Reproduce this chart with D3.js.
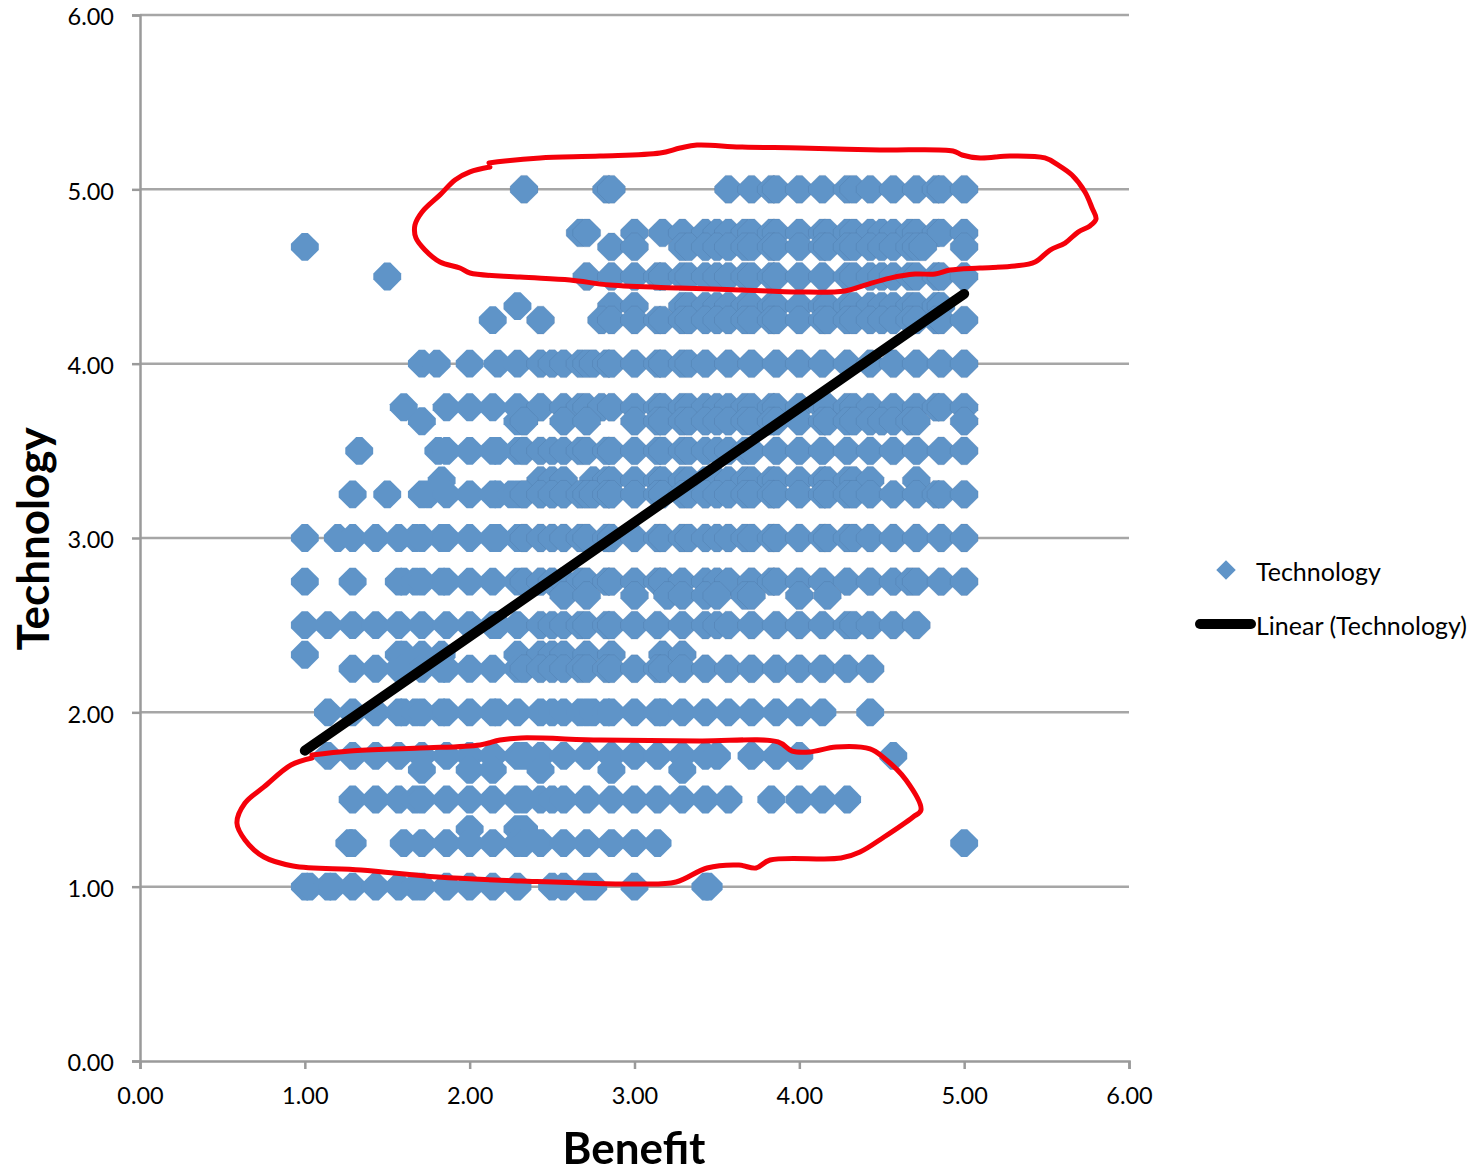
<!DOCTYPE html>
<html>
<head>
<meta charset="utf-8">
<script src="https://cdn.jsdelivr.net/npm/d3@7"></script>
<style>
html,body{margin:0;padding:0;background:#fff;}
svg{display:block;}
text{font-family:Lato,"Open Sans",sans-serif;fill:#000;}
</style>
</head>
<body>
<div id="chart"></div>
<script>
const xTicks = [0, 1, 2, 3, 4, 5, 6];
const yTicks = [0, 1, 2, 3, 4, 5, 6];
const xTitle = "Benefit";
const yTitle = "Technology";
const seriesName = "Technology";
const trendName = "Linear (Technology)";

const row500 = [2.33,2.83,2.86,3.57,3.71,3.83,3.86,4,4.14,4.29,4.33,4.43,4.57,4.71,4.83,4.86,5];
const row475 = [2.67,2.71,3,3.17,3.29,3.43,3.5,3.57,3.67,3.71,3.83,3.86,4,4.14,4.17,4.29,4.33,4.43,4.5,4.57,4.67,4.71,4.83,4.86,5];
const row467 = [1,2.86,3,3.29,3.33,3.43,3.5,3.57,3.67,3.71,3.83,3.86,4,4.14,4.17,4.29,4.33,4.43,4.5,4.57,4.67,4.71,4.75,5];
const row450 = [1.5,2.71,2.86,3,3.14,3.17,3.29,3.33,3.43,3.5,3.57,3.67,3.71,3.83,3.86,4,4.14,4.29,4.33,4.43,4.5,4.57,4.67,4.71,4.83,4.86,5];
const row433 = [2.29,2.86,3,3.29,3.33,3.43,3.5,3.57,3.67,3.71,3.83,3.86,4,4.14,4.17,4.29,4.33,4.43,4.5,4.57,4.67,4.71,4.83,4.86];
const row425 = [2.14,2.43,2.8,2.86,3,3.14,3.17,3.29,3.33,3.43,3.5,3.57,3.67,3.71,3.83,3.86,4,4.14,4.17,4.29,4.33,4.43,4.5,4.57,4.67,4.71,4.83,4.86,5];
const row400 = [1.71,1.8,2,2.17,2.29,2.43,2.5,2.57,2.67,2.71,2.75,2.83,2.86,3,3.14,3.17,3.29,3.33,3.43,3.57,3.71,3.86,4,4.14,4.29,4.43,4.57,4.71,4.86,5];
const row375 = [1.6,1.86,2,2.14,2.29,2.43,2.57,2.67,2.71,2.8,2.86,3,3.14,3.17,3.29,3.33,3.43,3.5,3.57,3.67,3.71,3.83,3.86,4,4.14,4.17,4.29,4.33,4.43,4.57,4.71,4.83,4.86,5];
const row367 = [1.71,2.29,2.33,2.57,2.71,3,3.14,3.17,3.29,3.33,3.43,3.5,3.57,3.67,3.71,3.83,3.86,4,4.14,4.17,4.29,4.33,4.43,4.5,4.57,4.67,4.71,5];
const row350 = [1.33,1.81,1.86,2,2.14,2.17,2.29,2.33,2.43,2.5,2.57,2.67,2.71,2.83,2.86,3,3.14,3.17,3.29,3.33,3.43,3.5,3.57,3.67,3.71,3.86,4,4.14,4.29,4.43,4.57,4.71,4.86,5];
const row333 = [1.83,2.43,2.5,2.57,2.75,2.83,2.86,3,3.14,3.17,3.29,3.33,3.43,3.5,3.57,3.67,3.71,3.83,3.86,4,4.14,4.17,4.29,4.33,4.43,4.71];
const row325 = [1.29,1.5,1.71,1.75,1.86,2,2.14,2.17,2.25,2.29,2.33,2.43,2.5,2.57,2.67,2.71,2.75,2.83,2.86,3,3.14,3.17,3.29,3.33,3.43,3.5,3.57,3.67,3.71,3.83,3.86,4,4.14,4.17,4.29,4.33,4.43,4.57,4.71,4.83,4.86,5];
const row300 = [1,1.2,1.29,1.43,1.57,1.67,1.71,1.83,1.86,2,2.14,2.17,2.29,2.33,2.43,2.5,2.57,2.67,2.71,2.83,2.86,3,3.14,3.17,3.29,3.33,3.43,3.5,3.57,3.67,3.71,3.83,3.86,4,4.14,4.17,4.29,4.33,4.43,4.57,4.71,4.86,5];
const row275 = [1,1.29,1.57,1.6,1.67,1.71,1.83,1.86,2,2.14,2.29,2.33,2.43,2.5,2.57,2.67,2.71,2.83,2.86,3,3.14,3.17,3.29,3.43,3.5,3.57,3.71,3.83,3.86,4,4.14,4.29,4.43,4.57,4.67,4.71,4.86,5];
const row267 = [2.57,2.71,3,3.2,3.29,3.43,3.5,3.67,3.71,4,4.17];
const row250 = [1,1.14,1.29,1.43,1.57,1.71,1.86,2,2.14,2.17,2.29,2.43,2.5,2.57,2.67,2.71,2.83,2.86,3,3.14,3.29,3.43,3.5,3.57,3.71,3.86,4,4.14,4.29,4.33,4.43,4.57,4.71];
const row233 = [1,1.57,1.6,1.71,1.83,2.29,2.43,2.5,2.57,2.71,2.86,3.17,3.29];
const row225 = [1.29,1.43,1.57,1.6,1.71,1.83,1.86,2,2.14,2.29,2.33,2.43,2.5,2.57,2.67,2.71,2.83,2.86,3,3.14,3.17,3.29,3.43,3.57,3.71,3.86,4,4.14,4.29,4.43];
const row200 = [1.14,1.29,1.43,1.57,1.6,1.67,1.71,1.83,1.86,2,2.14,2.17,2.29,2.43,2.5,2.57,2.67,2.71,2.75,2.83,2.86,3,3.14,3.17,3.29,3.43,3.57,3.71,3.86,4,4.14,4.43];
const row175 = [1.14,1.29,1.43,1.57,1.71,1.86,2,2.14,2.29,2.33,2.43,2.57,2.71,2.86,3,3.14,3.29,3.43,3.5,3.71,3.86,4,4.57];
const row167 = [1.71,2,2.14,2.43,2.86,3.29];
const row150 = [1.29,1.43,1.57,1.67,1.71,1.86,2,2.14,2.29,2.33,2.43,2.5,2.57,2.71,2.86,3,3.14,3.29,3.43,3.57,3.83,4,4.14,4.29];
const row133 = [2,2.29,2.33];
const row125 = [1.27,1.29,1.6,1.71,1.86,2,2.14,2.29,2.33,2.43,2.57,2.71,2.86,3,3.14,5];
const row100 = [1,1.03,1.14,1.17,1.29,1.43,1.57,1.67,1.71,1.86,2,2.14,2.29,2.5,2.57,2.71,2.75,3,3.43,3.45];

const rowLevels = [5,4.75,4.67,4.5,4.33,4.25,4,3.75,3.67,3.5,3.33,3.25,3,2.75,2.67,2.5,2.33,2.25,2,1.75,1.67,1.5,1.33,1.25,1];
const rowValues = [row500,row475,row467,row450,row433,row425,row400,row375,row367,row350,row333,row325,row300,row275,row267,row250,row233,row225,row200,row175,row167,row150,row133,row125,row100];

const trendX = [1, 5];
const trendY = [1.78, 4.40];

const upperLoopX = [2.117,2.214,2.427,2.791,3.155,3.276,3.379,3.640,4.004,4.489,4.932,4.987,5.096,5.278,5.490,5.569,5.654,5.733,5.776,5.800,5.763,5.691,5.612,5.521,5.430,5.308,5.096,4.914,4.823,4.702,4.550,4.398,4.277,4.004,3.640,3.276,2.851,2.609,2.305,2.002,1.941,1.820,1.729,1.674,1.668,1.711,1.820,1.911,2.002,2.123];
const upperLoopY = [5.151,5.163,5.180,5.191,5.208,5.237,5.254,5.243,5.237,5.226,5.220,5.197,5.180,5.191,5.180,5.140,5.082,4.985,4.893,4.830,4.790,4.755,4.692,4.652,4.583,4.560,4.549,4.537,4.514,4.514,4.491,4.451,4.417,4.411,4.423,4.434,4.451,4.480,4.497,4.520,4.549,4.583,4.652,4.721,4.795,4.870,4.968,5.054,5.100,5.128];
const lowerLoopX = [1.043,1.274,1.699,2.063,2.184,2.311,2.791,3.397,3.871,3.956,4.065,4.223,4.429,4.514,4.647,4.738,4.690,4.514,4.368,4.253,3.822,3.737,3.634,3.440,3.252,3.015,2.311,1.808,1.341,0.928,0.752,0.637,0.588,0.637,0.752,0.916,1.043];
const lowerLoopY = [1.755,1.778,1.795,1.813,1.841,1.853,1.841,1.836,1.830,1.778,1.773,1.801,1.790,1.738,1.612,1.440,1.400,1.285,1.199,1.164,1.153,1.107,1.124,1.107,1.027,1.015,1.033,1.055,1.096,1.119,1.170,1.268,1.365,1.480,1.572,1.698,1.738];

const W = 1484, H = 1174;
const svg = d3.select("#chart").append("svg").attr("width", W).attr("height", H);
const x = d3.scaleLinear().domain([0, 6]).range([140, 1129]);
const y = d3.scaleLinear().domain([0, 6]).range([1061, 15]);
const AXIS = "#9a9a9a", GRID = "#a6a6a6", BLUE = "#5f94c8";

const defs = svg.append("defs");
defs.append("filter").attr("id", "soft").attr("x", "-2%").attr("y", "-2%").attr("width", "104%").attr("height", "104%")
  .append("feGaussianBlur").attr("stdDeviation", 0.6);

svg.append("g").selectAll("line").data(yTicks.slice(1)).join("line")
  .attr("x1", x(0)).attr("x2", x(6))
  .attr("y1", d => y(d)).attr("y2", d => y(d))
  .attr("stroke", GRID).attr("stroke-width", 2.5);

const fmt = d3.format(".2f");
const gx = svg.append("g").attr("transform", `translate(0,${y(0)})`)
  .call(d3.axisBottom(x).tickValues(xTicks).tickFormat(fmt).tickSize(8).tickPadding(18));
const gy = svg.append("g").attr("transform", `translate(${x(0)},0)`)
  .call(d3.axisLeft(y).tickValues(yTicks).tickFormat(fmt).tickSize(8).tickPadding(18));
[gx, gy].forEach(g => {
  g.selectAll("path,line").attr("stroke", AXIS).attr("stroke-width", 2.5);
  g.selectAll("text").attr("font-size", 23.5).attr("fill", "#000");
  g.attr("font-family", null);
});
gy.selectAll("text").attr("dy", "0.42em");

// blunt-tipped diamond, as the spreadsheet's anti-aliased marker appears
const bluntDiamond = {
  draw(ctx, size) {
    const r = Math.sqrt(size) / 2, t = r * 0.82, s = r * 0.18 * 1.0;
    ctx.moveTo(-s, -t); ctx.lineTo(s, -t); ctx.lineTo(t, -s); ctx.lineTo(t, s);
    ctx.lineTo(s, t); ctx.lineTo(-s, t); ctx.lineTo(-t, s); ctx.lineTo(-t, -s);
    ctx.closePath();
  }
};

const points = rowValues.flatMap((xs, i) => xs.map(v => ({x: v, y: rowLevels[i]})));
const marker = d3.symbol().type(bluntDiamond).size(1156);
const isDense = d => d.x >= 2.3 && d.y >= 2.25;
svg.append("g").attr("filter", "url(#soft)").selectAll("path").data(points).join("path")
  .attr("d", marker())
  .attr("transform", d => `translate(${x(d.x)},${y(d.y)})`)
  .attr("fill", BLUE)
  .attr("stroke", d => isDense(d) ? "#3f5f85" : "none")
  .attr("stroke-opacity", 0.22)
  .attr("stroke-width", 0.8);

const line = d3.line().x(d => x(d[0])).y(d => y(d[1]));
svg.append("path").datum(d3.zip(trendX, trendY))
  .attr("d", line).attr("fill", "none")
  .attr("stroke", "#000").attr("stroke-width", 10).attr("stroke-linecap", "round");

const loop = d3.line().x(d => x(d[0])).y(d => y(d[1])).curve(d3.curveCatmullRom);
[[upperLoopX, upperLoopY], [lowerLoopX, lowerLoopY]].forEach(([a, b]) => {
  svg.append("path").datum(d3.zip(a, b))
    .attr("d", loop).attr("fill", "none")
    .attr("stroke", "#f5000a").attr("stroke-width", 5)
    .attr("stroke-linejoin", "round").attr("stroke-linecap", "round");
});

svg.append("text").attr("x", 634).attr("y", 1164).attr("text-anchor", "middle")
  .attr("font-size", 44).attr("font-weight", 700).text(xTitle);
svg.append("text").attr("transform", "translate(49,539) rotate(-90)").attr("text-anchor", "middle")
  .attr("font-size", 44).attr("font-weight", 700).text(yTitle);

svg.append("path").attr("d", d3.symbol().type(d3.symbolSquare).size(190)())
  .attr("transform", "translate(1226,570) rotate(45)").attr("fill", BLUE);
svg.append("line").attr("x1", 1200).attr("x2", 1251).attr("y1", 624).attr("y2", 624)
  .attr("stroke", "#000").attr("stroke-width", 10).attr("stroke-linecap", "round");
svg.append("text").attr("x", 1256).attr("y", 581).attr("font-size", 25).text(seriesName);
svg.append("text").attr("x", 1256).attr("y", 635).attr("font-size", 25).text(trendName);
</script>
</body>
</html>
